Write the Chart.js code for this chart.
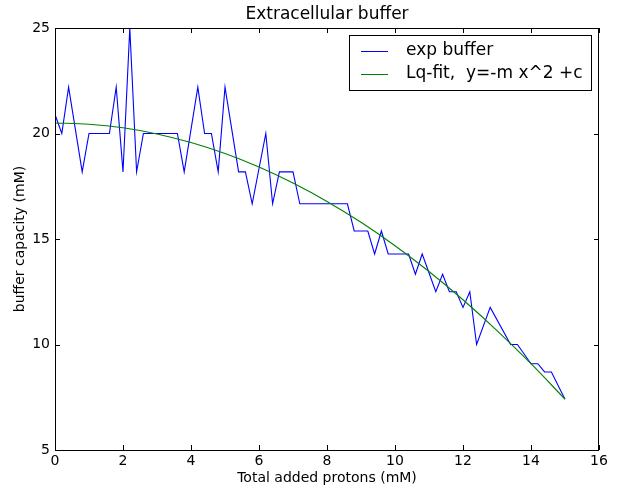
<!DOCTYPE html>
<html>
<head>
<meta charset="utf-8">
<script src="https://cdn.jsdelivr.net/npm/chart.js@4.4.1/dist/chart.umd.min.js"></script>
<style>
  body { margin: 0; background: #fff; }
  canvas { display: block; }
</style>
</head>
<body>
<canvas id="chart" width="618" height="489"></canvas>
<script>
// measured buffer capacity (blue)
const expX = [0, 0.2, 0.4, 0.8, 1.0, 1.2, 1.4, 1.6, 1.8, 2.0, 2.2, 2.4, 2.6, 2.8, 3.0, 3.2, 3.4, 3.6,
    3.8, 4.2, 4.4, 4.6, 4.8, 5.0, 5.4, 5.6, 5.8, 6.2, 6.4, 6.6, 6.8, 7.0, 7.2, 7.4, 7.6, 7.8, 8.0,
    8.2, 8.4, 8.6, 8.8, 9.0, 9.2, 9.4, 9.6, 9.8, 10.0, 10.2, 10.4, 10.6, 10.8, 11.2, 11.4, 11.6,
    11.8, 12.0, 12.2, 12.4, 12.8, 13.4, 13.6, 14.0, 14.2, 14.4, 14.6, 15.0];
const expY = [20.9, 20, 22.2, 18.18, 20, 20, 20, 20, 22.2, 18.18, 25, 18.18, 20, 20, 20, 20, 20, 20,
    18.18, 22.2, 20, 20, 18.18, 22.2, 18.18, 18.18, 16.67, 20, 16.67, 18.18, 18.18, 18.18, 16.67, 16.67, 16.67, 16.67, 16.67,
    16.67, 16.67, 16.67, 15.38, 15.38, 15.38, 14.29, 15.38, 14.29, 14.29, 14.29, 14.29, 13.33, 14.29, 12.5, 13.33, 12.5,
    12.5, 11.76, 12.5, 10, 11.76, 10, 10, 9.09, 9.09, 8.7, 8.7, 7.41];

// fitted curve (green)
const fitX = [0, 1, 2, 3, 4, 5, 6, 7, 8, 9, 10, 11, 12, 13, 14, 15];
const fitY = [20.5, 20.44, 20.27, 19.98, 19.57, 19.05, 18.41, 17.65, 16.78, 15.79, 14.68, 13.46, 12.12, 10.66, 9.09, 7.41];

const labels = ["exp buffer", "Lq-fit,  y=-m x^2 +c"];
const xTicks = [0, 2, 4, 6, 8, 10, 12, 14, 16];
const yTicks = [5, 10, 15, 20, 25];

const FONT = "DejaVu Sans";

function pairs(xs, ys) {
    return xs.map((x, i) => ({ x: x, y: ys[i] }));
}

const framePlugin = {
    id: "frame",
    afterDraw(chart) {
        const ctx = chart.ctx;
        const a = chart.chartArea;
        const sx = chart.scales.x;
        const sy = chart.scales.y;
        ctx.save();
        ctx.strokeStyle = "#000";
        ctx.lineWidth = 1;
        ctx.beginPath();
        xTicks.forEach(v => {
            const px = Math.round(sx.getPixelForValue(v)) + 0.5;
            ctx.moveTo(px, a.bottom); ctx.lineTo(px, a.bottom - 5);
            ctx.moveTo(px, a.top); ctx.lineTo(px, a.top + 5);
        });
        yTicks.forEach(v => {
            const py = Math.round(sy.getPixelForValue(v)) + 0.5;
            ctx.moveTo(a.left, py); ctx.lineTo(a.left + 5, py);
            ctx.moveTo(a.right, py); ctx.lineTo(a.right - 5, py);
        });
        ctx.stroke();
        ctx.strokeRect(Math.round(a.left) + 0.5, Math.round(a.top) + 0.5,
            Math.round(a.right - a.left) - 1, Math.round(a.bottom - a.top));

        // legend box
        ctx.fillStyle = "#fff";
        ctx.fillRect(349.5, 35.5, 242, 55);
        ctx.strokeRect(349.5, 35.5, 242, 55);
        ctx.font = "17px '" + FONT + "'";
        ctx.textBaseline = "middle";
        ctx.textAlign = "left";
        chart.data.datasets.forEach((ds, i) => {
            const y = 51 + i * 23;
            ctx.strokeStyle = ds.borderColor;
            ctx.beginPath();
            ctx.moveTo(361, y + 0.5);
            ctx.lineTo(388, y + 0.5);
            ctx.stroke();
            ctx.fillStyle = "#000";
            ctx.fillText(ds.label, 406, y);
        });
        ctx.restore();
    }
};

new Chart(document.getElementById("chart").getContext("2d"), {
    type: "line",
    data: {
        datasets: [{
            label: labels[0],
            data: pairs(expX, expY),
            borderColor: "#0000ff",
            borderWidth: 1.1,
            pointRadius: 0,
            tension: 0,
            order: 1
        }, {
            label: labels[1],
            data: pairs(fitX, fitY),
            borderColor: "#008000",
            borderWidth: 1.1,
            pointRadius: 0,
            cubicInterpolationMode: "monotone",
            order: 0
        }]
    },
    options: {
        responsive: false,
        animation: false,
        layout: { padding: { top: 0, right: 19, left: 0, bottom: 0 } },
        plugins: {
            legend: { display: false },
            tooltip: { enabled: false },
            title: {
                display: true,
                text: "Extracellular buffer",
                fullSize: false,
                color: "#000",
                font: { family: FONT, size: 17, weight: "normal" },
                padding: { top: 4, bottom: 3.6 }
            }
        },
        scales: {
            x: {
                type: "linear",
                min: 0,
                max: 16,
                afterFit: s => { s.height = 39; },
                grid: { display: false, drawTicks: false },
                border: { display: false },
                ticks: {
                    stepSize: 2,
                    padding: 3,
                    color: "#000",
                    maxRotation: 0,
                    font: { family: FONT, size: 14 }
                },
                title: {
                    display: true,
                    text: "Total added protons (mM)",
                    color: "#000",
                    font: { family: FONT, size: 14 },
                    padding: { top: 0, bottom: 2 }
                }
            },
            y: {
                min: 5,
                max: 25,
                afterFit: s => { s.width = 55; },
                grid: { display: false, drawTicks: false },
                border: { display: false },
                ticks: {
                    stepSize: 5,
                    padding: 5,
                    color: "#000",
                    font: { family: FONT, size: 14 }
                },
                title: {
                    display: true,
                    text: "buffer capacity (mM)",
                    color: "#000",
                    font: { family: FONT, size: 14 },
                    padding: { top: 12, bottom: 0 }
                }
            }
        }
    },
    plugins: [framePlugin]
});
</script>
</body>
</html>
